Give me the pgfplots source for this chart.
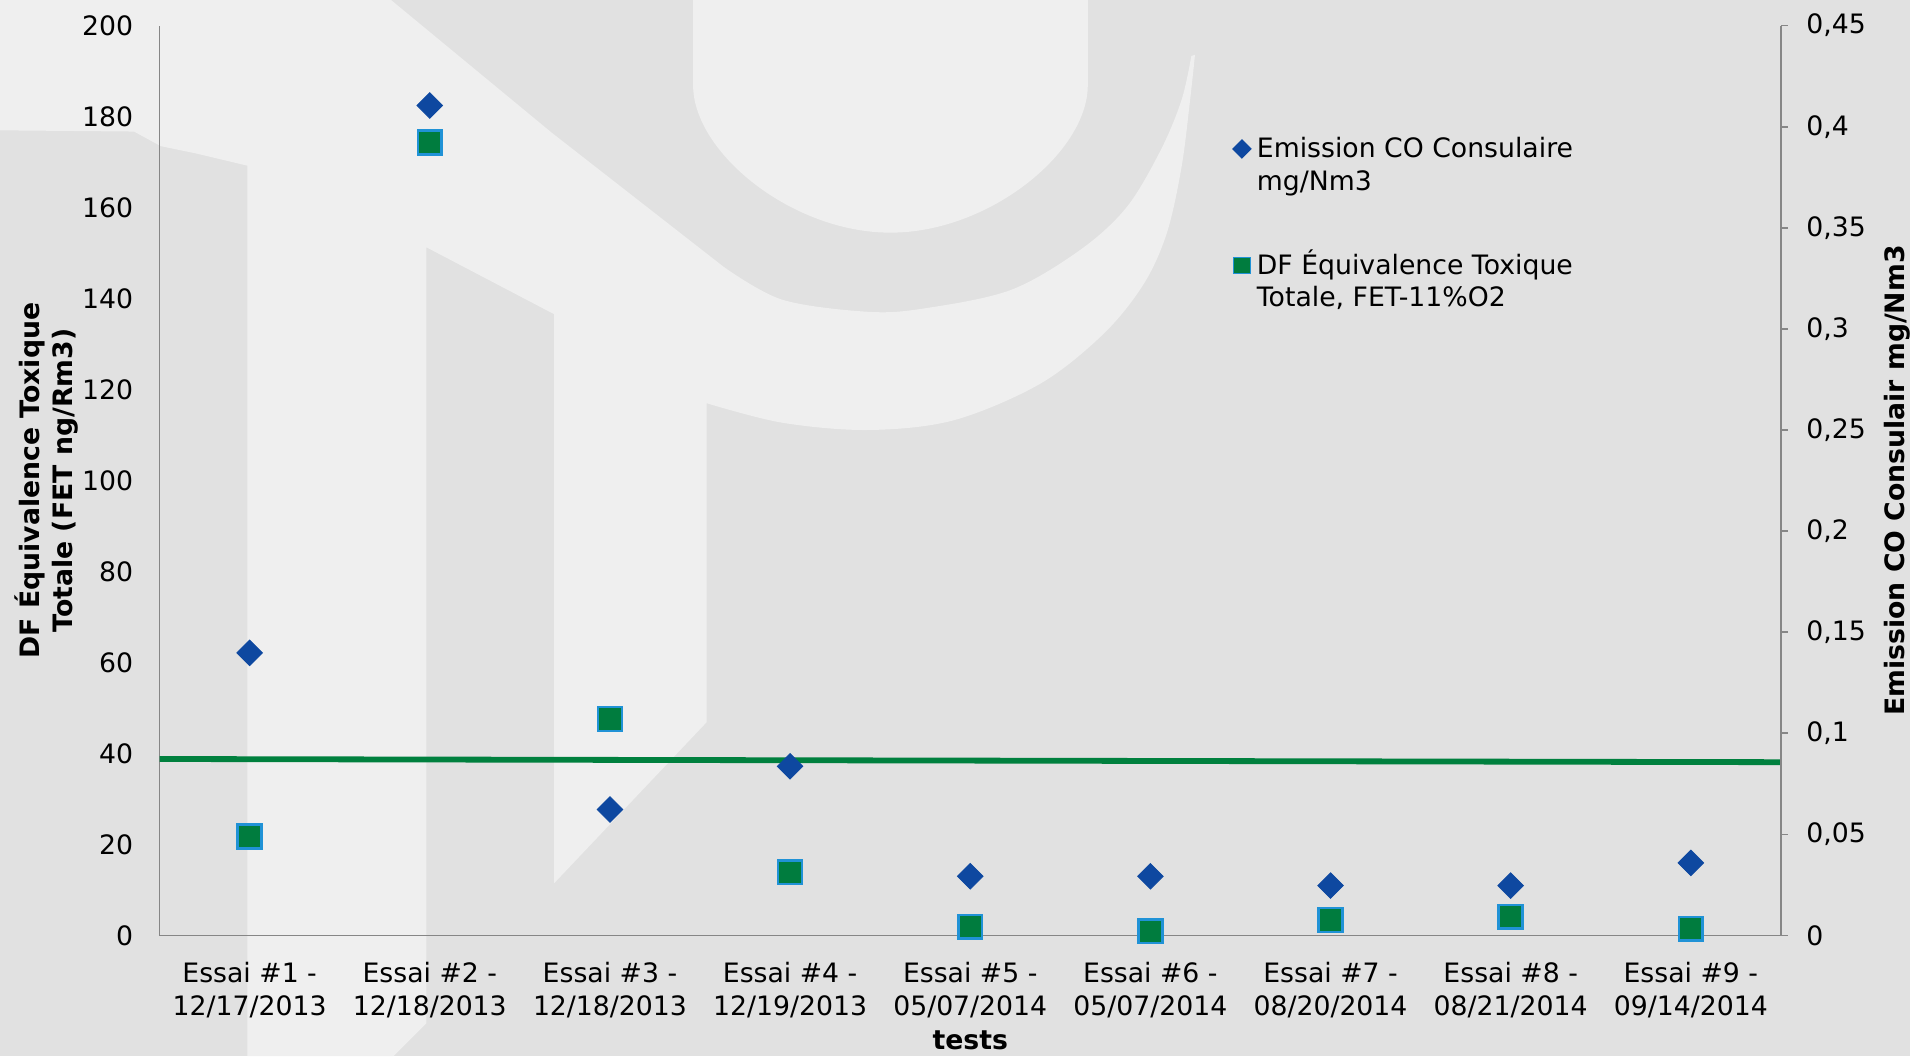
\documentclass[border=0pt]{standalone}
\usepackage{pgfplots}
\pgfplotsset{compat=1.18}
\usepackage{fontspec}
\setmainfont{DejaVu Sans}

\definecolor{bgdark}{RGB}{225,225,225}
\definecolor{bglight}{RGB}{239,239,239}
\definecolor{coblue}{RGB}{14,72,160}
\definecolor{dfgreen}{RGB}{0,124,62}
\definecolor{dfedge}{RGB}{32,146,214}
\definecolor{limitgreen}{RGB}{0,128,62}
\definecolor{axisgray}{RGB}{134,134,134}

\newcommand{\labfont}{\fontsize{13.35}{16.4}\selectfont}

\begin{document}
\begin{tikzpicture}
\useasboundingbox (0,0) rectangle (955pt,528pt);
\fill[bgdark] (0,0) rectangle (955pt,528pt);
% pale logo watermark behind the plot area (top-down frame)
\begin{scope}[shift={(0pt,528pt)}, x=0.60906pt, y=-0.60906pt]
  \fill[bglight] (0,0) -- (321,0) -- (453,109)
    -- plot[smooth, tension=0.55] coordinates {(594,219) (642,246) (713,256) (760,253) (830,238) (887,205) (925,170) (953,123) (970,82) (978,46)}
    -- plot[smooth, tension=0.55] coordinates {(981,45) (977,82) (970,137) (958,191) (939,233) (906,274) (854,315) (783,345) (713,353) (642,347) (580,331)}
    -- (580,593) -- (455,725) -- (455,258) -- (350,203) -- (350,840) -- (323,867)
    -- (203,867) -- (203,136) -- (161,126) -- (132,120) -- (110,108) -- (0,107) -- cycle;
  \fill[bglight] (569,0) -- (569,70) .. controls (569,125) and (650,191) .. (731,191)
    .. controls (812,191) and (893,125) .. (893,70) -- (893,0) -- cycle;
\end{scope}

% left axis: toxic equivalence (squares) and the reference line
\begin{axis}[
  at={(79.79pt,60.24pt)}, anchor=south west,
  scale only axis, width=810.66pt, height=454.97pt,
  xmin=0.5, xmax=9.5, ymin=0, ymax=200,
  axis x line*=bottom, axis y line*=left,
  axis line style={draw=axisgray, line width=0.9pt, -},
  xtick={1,2,3,4,5,6,7,8,9},
  xticklabels={{Essai \#1 -\\12/17/2013},{Essai \#2 -\\12/18/2013},{Essai \#3 -\\12/18/2013},
               {Essai \#4 -\\12/19/2013},{Essai \#5 -\\05/07/2014},{Essai \#6 -\\05/07/2014},
               {Essai \#7 -\\08/20/2014},{Essai \#8 -\\08/21/2014},{Essai \#9 -\\09/14/2014}},
  ytick={0,20,40,60,80,100,120,140,160,180,200},
  yticklabels={0,20,40,60,80,100,120,140,160,180,200},
  xtick style={draw=none}, ytick style={draw=none},
  xticklabel style={align=center, font=\labfont, inner sep=0pt, yshift=-13.2pt},
  yticklabel style={font=\labfont, inner sep=0pt, anchor=east, xshift=-13pt},
  xlabel={tests},
  xlabel style={at={(axis description cs:0.5,-0.1255)}, anchor=base, font=\bfseries\labfont},
  ylabel={DF Équivalence Toxique\\Totale (FET ng/Rm3)},
  ylabel style={at={(axis description cs:-0.0697,0.5)}, anchor=center, align=center, font=\bfseries\labfont},
  clip=false,
]
\addplot[limitgreen, line width=2.9pt, no marks] coordinates {(0.5,38.8) (9.5,38.1)};
\addplot[only marks, mark=square*, mark size=5.95pt,
  mark options={fill=dfgreen, draw=dfedge, line width=1.3pt}]
  coordinates {(1,21.8) (2,174.3) (3,47.6) (4,13.9) (5,1.9) (6,0.95) (7,3.4) (8,4.1) (9,1.5)};
\end{axis}

% right axis: CO emission (diamonds) and the legend
\begin{axis}[
  at={(79.79pt,60.24pt)}, anchor=south west,
  scale only axis, width=810.66pt, height=454.97pt,
  xmin=0.5, xmax=9.5, ymin=0, ymax=0.45,
  axis x line=none, axis y line*=right,
  y axis line style={draw=axisgray, line width=0.9pt, -},
  ytick={0,0.05,0.1,0.15,0.2,0.25,0.3,0.35,0.4,0.45},
  yticklabels={0,{0,05},{0,1},{0,15},{0,2},{0,25},{0,3},{0,35},{0,4},{0,45}},
  tick align=outside, major tick length=3.5pt,
  ytick style={draw=axisgray, line width=0.9pt},
  yticklabel style={font=\labfont, inner sep=0pt, anchor=west, xshift=9pt},
  ylabel={Emission CO Consulair mg/Nm3},
  ylabel style={at={(axis description cs:1.0765,0.5)}, anchor=base, font=\bfseries\labfont},
  legend cell align=left,
  legend style={at={(0.6618,0.8777)}, anchor=north west, draw=none, fill=none,
    inner sep=0pt, row sep=44.4pt, font=\labfont,
    nodes={inner sep=0pt}, cells={anchor=base west},
    /tikz/every odd column/.style={column sep=3pt}},
  legend image code/.code={\draw[#1, every mark/.append style={scale=0.7, line width=0.6pt}] plot coordinates {(0pt,4.3pt)};},
  clip=false,
]
\addplot[only marks, mark=diamond*, mark size=6.4pt,
  mark options={fill=coblue, draw=coblue, line width=0.4pt, xscale=1.333}]
  coordinates {(1,0.1398) (2,0.4105) (3,0.0623) (4,0.0837) (5,0.0293) (6,0.0293) (7,0.0247) (8,0.0247) (9,0.0359)};
\addlegendentry{\vtop{\hbox{Emission CO Consulaire}\hbox{mg/Nm3}}}
\addlegendimage{only marks, mark=square*, mark size=5.95pt,
  mark options={fill=dfgreen, draw=dfedge, line width=1.3pt}}
\addlegendentry{\vtop{\hbox{DF Équivalence Toxique}\hbox{Totale, FET-11\%O2}}}
\end{axis}
\end{tikzpicture}
\end{document}
